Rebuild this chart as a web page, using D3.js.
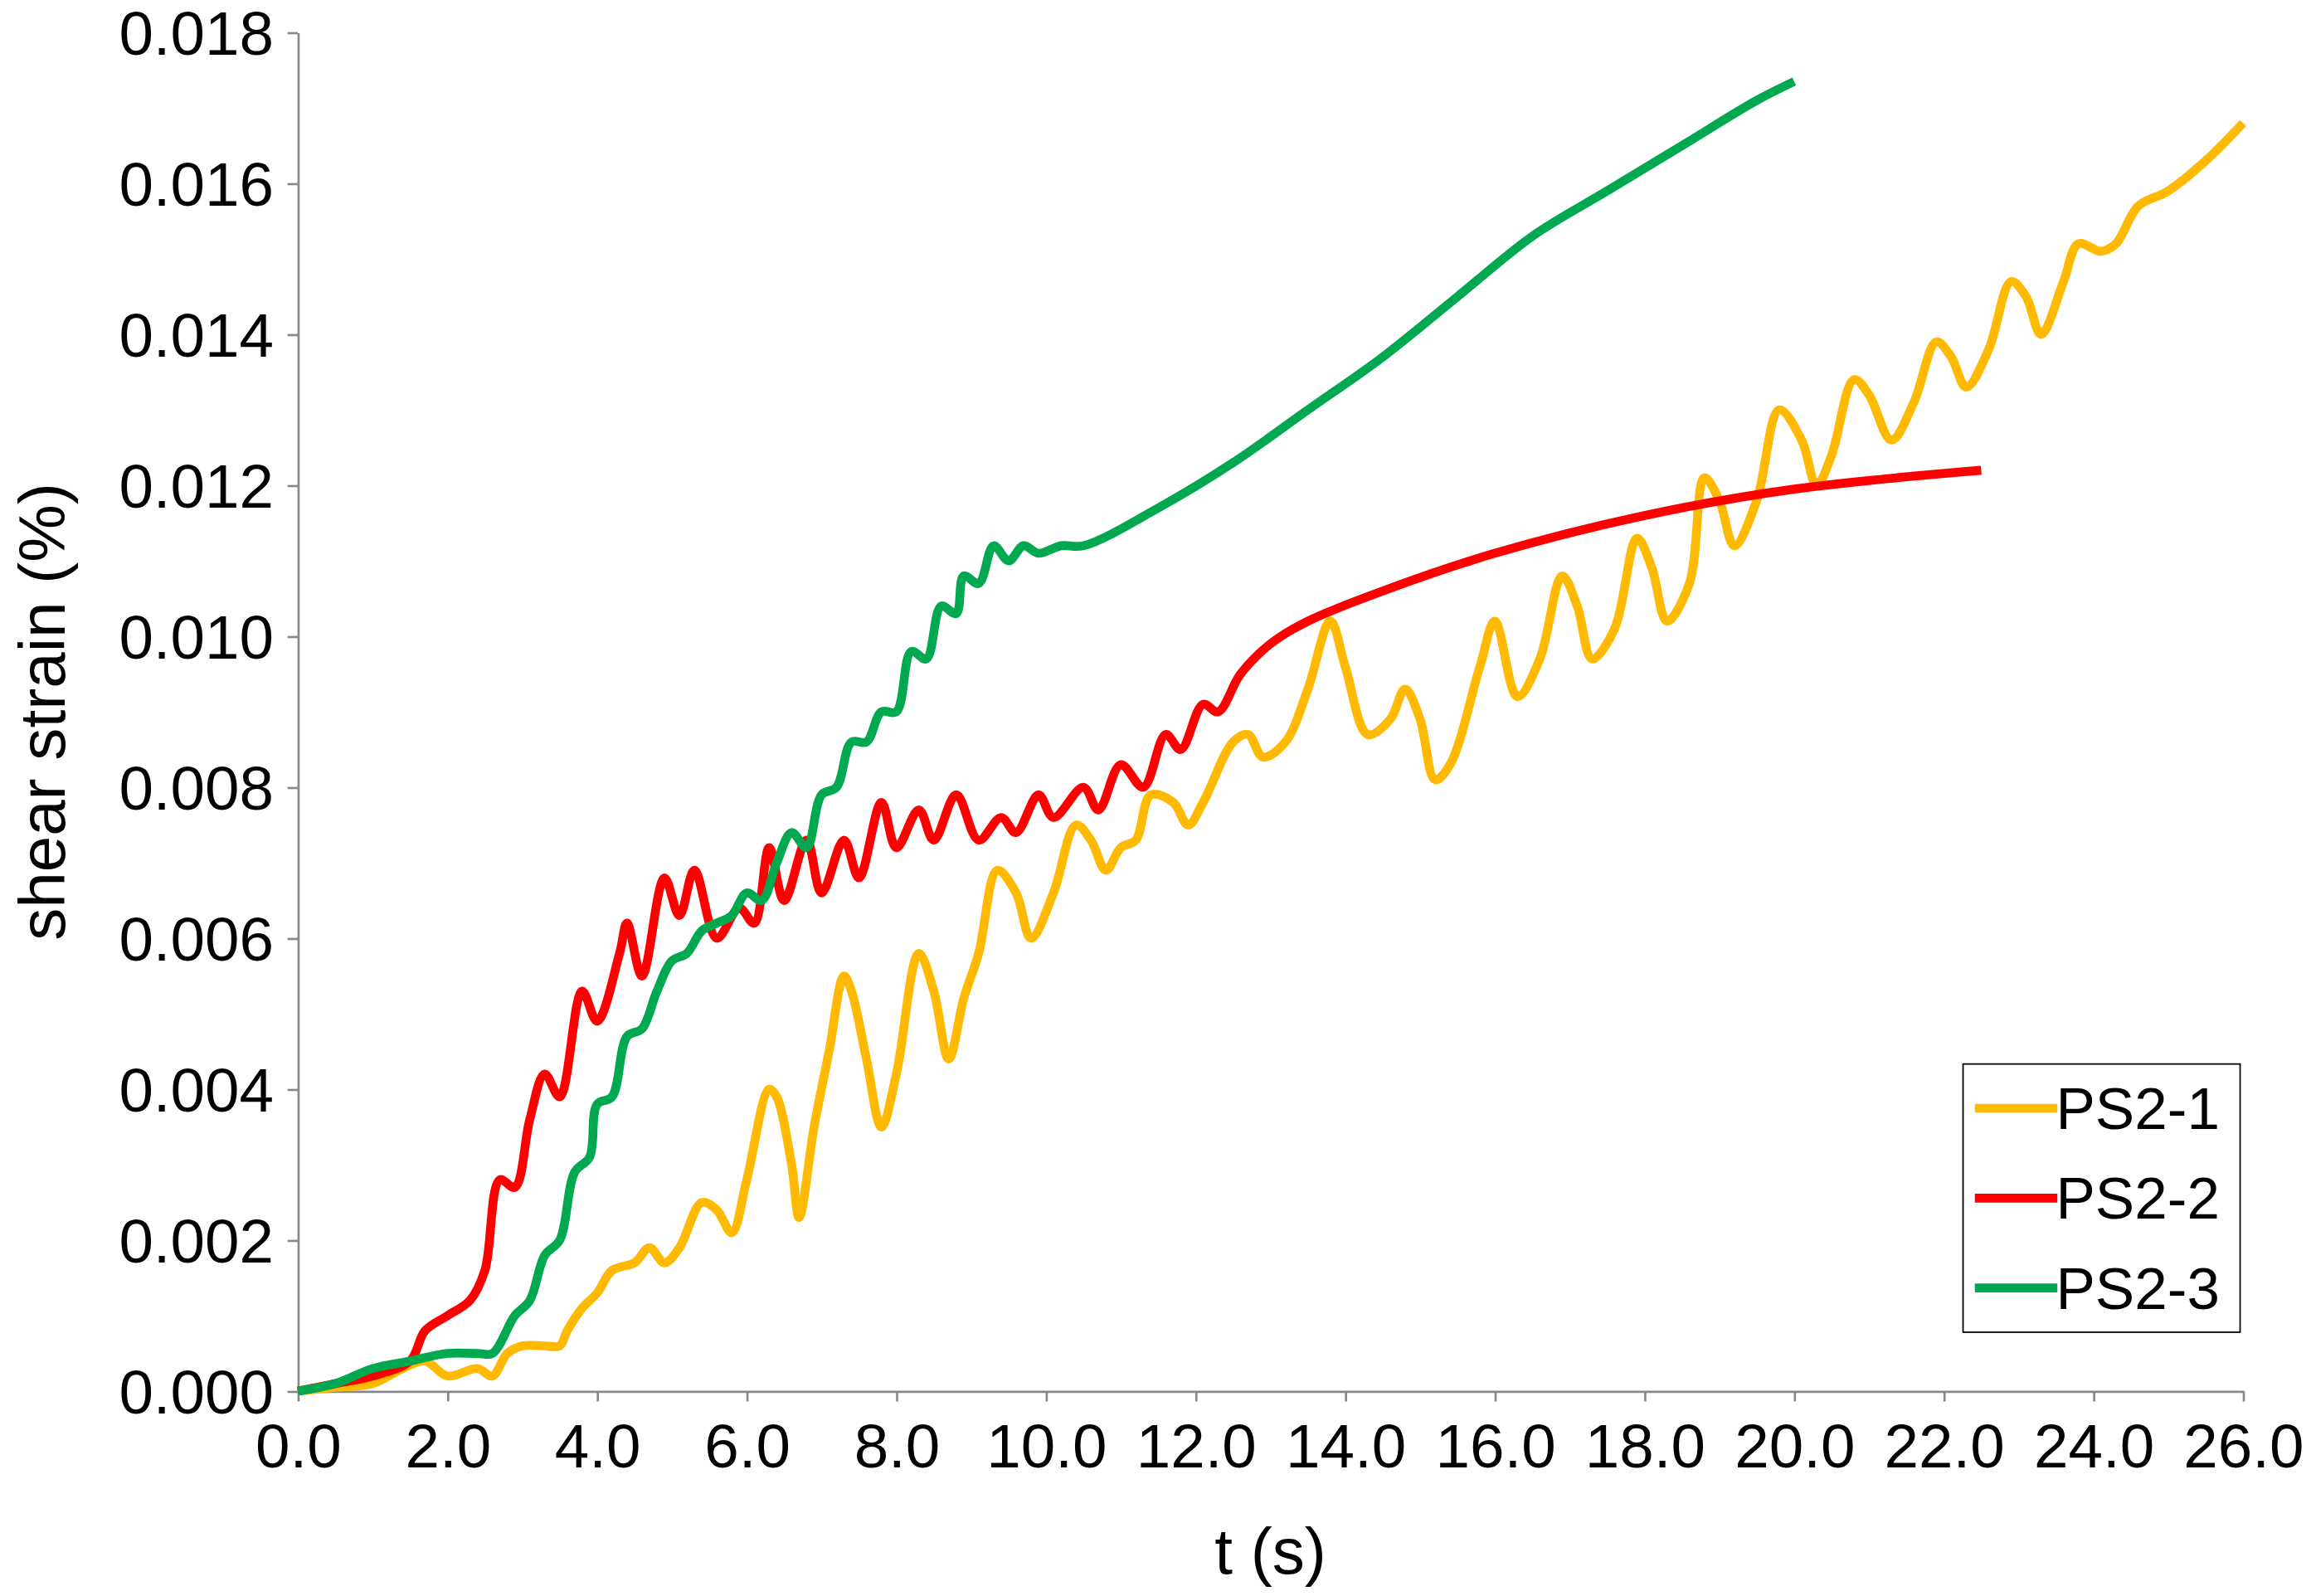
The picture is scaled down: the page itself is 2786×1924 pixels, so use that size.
<!DOCTYPE html>
<html><head><meta charset="utf-8">
<script src="https://cdn.jsdelivr.net/npm/d3@7"></script>
<style>body{margin:0;background:#fff}</style>
</head><body><div id="chart"></div>
<script>
const series = ["PS2-1", "PS2-2", "PS2-3"];
const colors = ["#ffb900", "#ff0000", "#00a94f"];

const ps21 = [[0,0],[0.5,0.00005],[1.0,0.0001],[1.4,0.0003],[1.7,0.0004],[2.0,0.0002],[2.4,0.0003],[2.6,0.0002],[2.8,0.0005],[3.0,0.0006],[3.3,0.0006],[3.5,0.0006],[3.6,0.0008],[3.8,0.0011],[4.0,0.0013],[4.2,0.0016],[4.5,0.0017],[4.7,0.0019],[4.9,0.0017],[5.1,0.0019],[5.4,0.0025],[5.6,0.0024],[5.8,0.0021],[6.0,0.0028],[6.3,0.0040],[6.4,0.0039],[6.6,0.003],[6.7,0.0023],[6.9,0.0035],[7.1,0.0045],[7.3,0.0055],[7.4,0.0053],[7.6,0.0044],[7.8,0.0035],[8.0,0.0042],[8.3,0.0058],[8.5,0.0053],[8.7,0.0044],[8.9,0.0052],[9.1,0.0058],[9.35,0.0069],[9.6,0.0066],[9.8,0.0060],[10.1,0.0066],[10.4,0.0075],[10.6,0.0073],[10.8,0.0069],[11.0,0.0072],[11.2,0.0073],[11.4,0.0079],[11.7,0.0078],[11.9,0.0075],[12.1,0.0078],[12.5,0.0086],[12.7,0.0087],[12.9,0.0084],[13.2,0.0086],[13.5,0.0093],[13.8,0.0102],[14.0,0.0096],[14.3,0.0087],[14.6,0.0089],[14.8,0.0093],[15.0,0.0089],[15.2,0.0081],[15.4,0.0083],[15.8,0.0096],[16.0,0.0102],[16.3,0.0092],[16.6,0.0097],[16.9,0.0108],[17.1,0.0104],[17.3,0.0097],[17.6,0.0101],[17.9,0.0113],[18.1,0.0109],[18.3,0.0102],[18.6,0.0107],[18.8,0.0121],[19.0,0.0118],[19.2,0.0112],[19.5,0.0118],[19.8,0.0130],[20.1,0.0126],[20.3,0.0120],[20.5,0.0124],[20.8,0.0134],[21.0,0.0132],[21.3,0.0126],[21.6,0.0131],[21.9,0.0139],[22.1,0.0137],[22.3,0.0133],[22.6,0.0138],[22.9,0.0147],[23.1,0.0145],[23.3,0.0140],[23.6,0.0147],[23.8,0.0152],[24.1,0.0151],[24.3,0.0152],[24.6,0.0157],[25.0,0.0159],[25.5,0.0163],[26.0,0.0168]];

const ps22 = [[0,0],[0.5,0.0001],[1.0,0.0002],[1.5,0.0004],[1.7,0.0008],[2.0,0.001],[2.3,0.0012],[2.5,0.0016],[2.7,0.0028],[2.9,0.0027],[3.1,0.0036],[3.3,0.0042],[3.5,0.0039],[3.8,0.0053],[4.0,0.0049],[4.3,0.0058],[4.4,0.0062],[4.6,0.0055],[4.9,0.0068],[5.1,0.0063],[5.3,0.0069],[5.6,0.006],[5.9,0.0064],[6.1,0.0062],[6.3,0.0072],[6.5,0.0065],[6.8,0.0073],[7.0,0.0066],[7.3,0.0073],[7.5,0.0068],[7.8,0.0078],[8.0,0.0072],[8.3,0.0077],[8.5,0.0073],[8.8,0.0079],[9.1,0.0073],[9.4,0.0076],[9.6,0.0074],[9.9,0.0079],[10.1,0.0076],[10.5,0.0080],[10.7,0.0077],[11.0,0.0083],[11.3,0.0080],[11.6,0.0087],[11.8,0.0085],[12.1,0.0091],[12.3,0.0090],[12.6,0.0095],[13.0,0.0099],[13.5,0.0102],[14.5,0.0106],[16,0.0111],[18,0.0116],[20,0.01195],[22.5,0.0122]];

const ps23 = [[0,0],[0.5,0.0001],[1.0,0.0003],[1.5,0.0004],[2.0,0.0005],[2.4,0.0005],[2.6,0.0005],[2.9,0.001],[3.1,0.0012],[3.3,0.0018],[3.5,0.0020],[3.7,0.0029],[3.9,0.0031],[4.0,0.0038],[4.2,0.0039],[4.4,0.0047],[4.6,0.0048],[4.8,0.0053],[5.0,0.0057],[5.2,0.0058],[5.4,0.0061],[5.6,0.0062],[5.8,0.0063],[6.0,0.0066],[6.2,0.0065],[6.4,0.0070],[6.6,0.0074],[6.8,0.0072],[7.0,0.0079],[7.2,0.0080],[7.4,0.0086],[7.6,0.0086],[7.8,0.0090],[8.0,0.0090],[8.2,0.0098],[8.4,0.0097],[8.6,0.0104],[8.8,0.0103],[8.9,0.0108],[9.1,0.0107],[9.3,0.0112],[9.5,0.0110],[9.7,0.0112],[9.9,0.0111],[10.2,0.0112],[10.5,0.0112],[11.5,0.0117],[12.5,0.0123],[13.5,0.0130],[14.5,0.0137],[15.5,0.0145],[16.5,0.0153],[17.5,0.0159],[18.5,0.0165],[19.5,0.0171],[20.0,0.01735]];

const xTicks = d3.range(0, 26.01, 2);
const yTicks = d3.range(0, 0.01801, 0.002);

const W = 1568, H = 1083;
const svg = d3.select("#chart").append("svg")
    .attr("width", 2786).attr("height", 1924)
    .attr("viewBox", `0 0 ${W} ${H}`)
    .style("font-family", "Liberation Sans, Arial, sans-serif");

const x = d3.scaleLinear().domain([0, 26]).range([202, 1522]);
const y = d3.scaleLinear().domain([0, 0.018]).range([944, 22]);

const xAxis = svg.append("g").attr("transform", "translate(0,944)")
    .call(d3.axisBottom(x).tickValues(xTicks).tickFormat(d3.format(".1f")).tickSize(7).tickSizeOuter(0));
const yAxis = svg.append("g").attr("transform", "translate(202,0)")
    .call(d3.axisLeft(y).tickValues(yTicks).tickFormat(d3.format(".3f")).tickSize(7).tickSizeOuter(0));
[xAxis, yAxis].forEach(a => {
  a.selectAll("path,line").attr("stroke", "#888").attr("stroke-width", 1.5);
  a.selectAll("text").attr("font-size", 42).attr("fill", "#000").attr("font-family", "Liberation Sans, Arial, sans-serif");
});
xAxis.selectAll("text").attr("dy", "1.0em");
yAxis.selectAll("text").attr("dx", "-0.15em").attr("dy", "0.35em");

svg.append("text").attr("x", 862).attr("y", 1068).attr("text-anchor", "middle")
    .attr("font-size", 44).text("t (s)");
svg.append("text").attr("transform", "translate(44,483) rotate(-90)").attr("text-anchor", "middle")
    .attr("font-size", 44).text("shear strain (%)");

const line = d3.line().x(d => x(d[0])).y(d => y(d[1])).curve(d3.curveCatmullRom);
[ps21, ps22, ps23].forEach((s, i) => {
  svg.append("path").datum(s).attr("d", line).attr("fill", "none")
     .attr("stroke", colors[i]).attr("stroke-width", 6).attr("stroke-linejoin", "round");
});

const lg = svg.append("g").attr("transform", "translate(1332,722)");
lg.append("rect").attr("width", 188).attr("height", 182).attr("fill", "#fff").attr("stroke", "#000").attr("stroke-width", 1);
series.forEach((s, i) => {
  const yy = 30 + i * 61;
  lg.append("line").attr("x1", 8).attr("x2", 64).attr("y1", yy).attr("y2", yy)
    .attr("stroke", colors[i]).attr("stroke-width", 6);
  lg.append("text").attr("x", 63).attr("y", yy + 14).attr("font-size", 40).text(s);
});
</script></body></html>
